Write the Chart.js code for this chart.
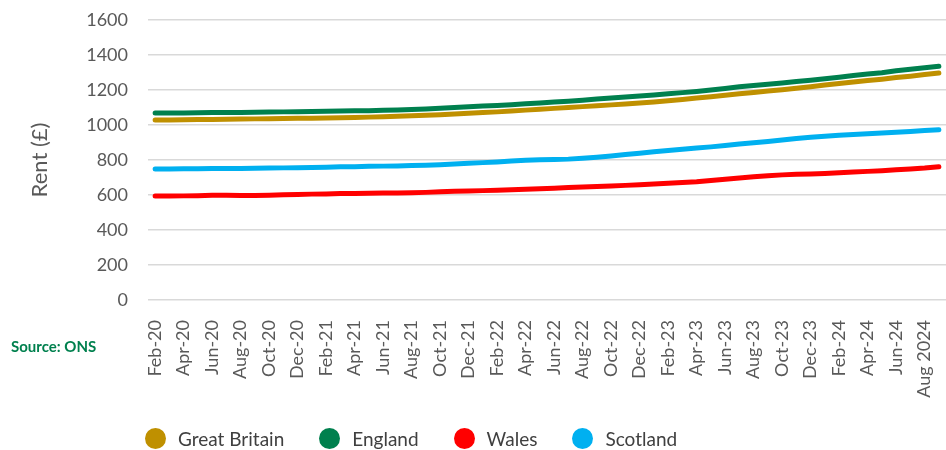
<!DOCTYPE html>
<html>
<head>
<meta charset="utf-8">
<script src="https://cdn.jsdelivr.net/npm/chart.js@4.4.1/dist/chart.umd.min.js"></script>
<style>
  html, body { margin: 0; padding: 0; background: #fff; }
  #wrap { position: relative; width: 946px; height: 450px; font-family: Lato, sans-serif; }
  #source { position: absolute; left: 11px; top: 337px; font-size: 15px; font-weight: bold; color: #00804E; }
  #legend { position: absolute; left: 145px; top: 427px; display: flex; gap: 35px; font-size: 19px; color: #404040; }
  #legend .item { display: flex; align-items: center; gap: 12px; }
  #legend .dot { width: 21px; height: 21px; border-radius: 50%; }
</style>
</head>
<body>
<div id="wrap">
  <canvas id="chart" width="946" height="450"></canvas>
  <div id="source">Source: ONS</div>
  <div id="legend"></div>
</div>
<script>
// Monthly labels, Feb 2020 to Sep 2024 (every other one is shown)
const months = [
  'Feb-20','Mar-20','Apr-20','May-20','Jun-20','Jul-20','Aug-20','Sep-20','Oct-20','Nov-20','Dec-20',
  'Jan-21','Feb-21','Mar-21','Apr-21','May-21','Jun-21','Jul-21','Aug-21','Sep-21','Oct-21','Nov-21','Dec-21',
  'Jan-22','Feb-22','Mar-22','Apr-22','May-22','Jun-22','Jul-22','Aug-22','Sep-22','Oct-22','Nov-22','Dec-22',
  'Jan-23','Feb-23','Mar-23','Apr-23','May-23','Jun-23','Jul-23','Aug-23','Sep-23','Oct-23','Nov-23','Dec-23',
  'Jan-24','Feb-24','Mar-24','Apr-24','May-24','Jun-24','Jul-24','Aug 2024','Sep-24'
];

// Average monthly private rent (£)
const greatBritain = [
  1029,1029,1030,1031,1032,1033,1034,1035,1036,1037,1038,
  1039,1040,1042,1043,1045,1047,1050,1053,1056,1059,1063,1067,
  1071,1075,1080,1085,1090,1095,1100,1105,1110,1115,1120,1126,
  1132,1139,1146,1154,1162,1170,1178,1186,1194,1202,1210,1219,
  1228,1237,1246,1254,1262,1271,1279,1288,1297
];
const england = [
  1069,1069,1069,1070,1071,1072,1072,1073,1074,1075,1076,
  1077,1078,1080,1081,1082,1084,1086,1089,1092,1096,1100,1104,
  1108,1112,1116,1121,1126,1131,1136,1142,1148,1154,1160,1166,
  1172,1178,1185,1192,1200,1209,1218,1226,1233,1240,1248,1256,
  1264,1273,1283,1291,1299,1310,1318,1327,1336
];
const wales = [
  594,594,595,596,598,599,597,597,599,601,603,
  605,606,608,609,610,611,612,613,615,618,621,623,
  625,627,630,633,636,639,643,646,649,652,655,659,
  663,667,671,676,683,690,697,704,710,715,718,720,
  723,727,731,735,739,744,749,754,761
];
const scotland = [
  748,749,750,750,751,752,752,753,754,755,756,
  757,759,761,762,764,765,766,768,770,773,777,781,
  785,789,794,798,801,803,805,810,816,823,831,839,
  847,854,861,868,875,883,892,899,906,914,923,930,
  936,942,946,950,954,959,963,968,973
];

const yTicks = [0, 200, 400, 600, 800, 1000, 1200, 1400, 1600];

const series = [
  { label: 'Great Britain', data: greatBritain, color: '#BF9000' },
  { label: 'England', data: england, color: '#00804E' },
  { label: 'Wales', data: wales, color: '#FF0000' },
  { label: 'Scotland', data: scotland, color: '#00B0F0' }
];

const chart = new Chart(document.getElementById('chart'), {
  type: 'line',
  data: {
    labels: months,
    datasets: series.map(s => ({
      label: s.label,
      data: s.data,
      borderColor: s.color,
      backgroundColor: s.color,
      borderWidth: 5,
      borderCapStyle: 'round',
      borderJoinStyle: 'round',
      pointRadius: 0,
      tension: 0
    }))
  },
  options: {
    responsive: false,
    animation: false,
    layout: { padding: { top: 20, right: 0, left: 0, bottom: 0 } },
    plugins: { legend: { display: false }, tooltip: { enabled: false } },
    scales: {
      x: {
        offset: true,
        grid: { display: false },
        border: { display: false },
        ticks: {
          autoSkip: false,
          maxRotation: 90,
          minRotation: 90,
          padding: 12,
          color: '#595959',
          font: { family: 'Lato', size: 18 },
          callback: (v, i) => (i % 2 === 0 ? months[i] : '')
        },
        afterFit: s => {
          s.height = 150;
          s.paddingLeft = 0;
          s.paddingRight = 0;
        }
      },
      y: {
        min: 0,
        max: 1600,
        afterBuildTicks: s => { s.ticks = yTicks.map(v => ({ value: v })); },
        grid: { color: '#D9D9D9', lineWidth: 1.5, drawTicks: false },
        border: { display: false },
        ticks: {
          padding: 20,
          color: '#595959',
          font: { family: 'Lato', size: 18 },
          callback: v => String(v)
        },
        title: {
          display: true,
          text: 'Rent (£)',
          color: '#595959',
          font: { family: 'Lato', size: 22 },
          padding: { top: 27, bottom: 0 }
        },
        afterFit: s => {
          s.width = 148;
          s.paddingTop = 0;
          s.paddingBottom = 0;
        }
      }
    }
  }
});

// HTML legend built from the datasets
const legend = document.getElementById('legend');
chart.data.datasets.forEach(ds => {
  const item = document.createElement('div');
  item.className = 'item';
  item.innerHTML = `<span class="dot" style="background:${ds.borderColor}"></span><span>${ds.label}</span>`;
  legend.appendChild(item);
});
</script>
</body>
</html>
